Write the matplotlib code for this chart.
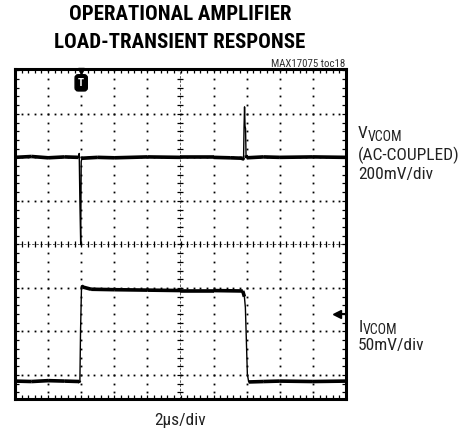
import matplotlib
matplotlib.use("Agg")
import matplotlib.pyplot as plt
from matplotlib import font_manager
import numpy as np

# scope screen in divisions (10 x 8, bottom part cropped)
x_divs = 10
y_top = 4.03
y_bottom = -3.54

# VVCOM trace (AC-coupled, 200mV/div), time and level in divisions
vcom_t = [-5.0, -4.5, -4.0, -3.5, -3.08, -3.06, -3.04, -3.015, -3.0, -2.98, -2.5, -2.0, -1.0,
          0.0, 1.0, 1.5, 1.88, 1.905, 1.92, 1.935, 1.95, 1.965, 1.98, 2.0, 2.5, 3.0, 4.0, 5.0]
vcom_v = [2.0, 2.02, 1.99, 2.01, 2.0, 2.09, 1.0, 0.0, 1.9, 1.98, 2.0, 1.99, 2.01,
          2.0, 2.0, 1.99, 1.98, 1.94, 2.7, 3.16, 2.72, 2.66, 2.05, 1.99, 2.01, 2.0, 2.01, 2.0]

# IVCOM trace (50mV/div)
ivcom_t = [-5.0, -4.5, -4.0, -3.5, -3.06, -3.04, -3.02, -2.99, -2.95, -2.7, -2.0, -1.0,
           0.0, 1.0, 1.88, 1.93, 1.96, 2.02, 2.06, 2.5, 3.0, 4.0, 5.0]
ivcom_v = [-3.14, -3.15, -3.13, -3.14, -3.15, -3.17, -2.0, -0.95, -0.98, -1.03, -1.04, -1.05,
           -1.06, -1.06, -1.07, -1.2, -1.45, -2.98, -3.16, -3.15, -3.14, -3.15, -3.14]

trigger_t = -3.0
ch2_ref = -1.59

installed = set(f.name for f in font_manager.fontManager.ttflist)


def pick(cands):
    for c in cands:
        if c in installed:
            return c
    return "DejaVu Sans"


narrow = pick(["Roboto Condensed", "Archivo Narrow", "PT Sans Narrow",
               "Liberation Sans Narrow", "Barlow Condensed", "Liberation Sans"])
heavy = pick(["Roboto Condensed", "Archivo Narrow", "Barlow Condensed",
              "Oswald", "Liberation Sans"])

fig = plt.figure(figsize=(4.73, 4.32), dpi=100)
W, H = 473, 432
ax = fig.add_axes([15 / W, 1 - 398.5 / H, 331 / W, 329.5 / H])
ax.set_xlim(-x_divs / 2, x_divs / 2)
ax.set_ylim(y_bottom, y_top)

# graticule dots
minor_x = np.arange(-5, 5.001, 0.2)
minor_y = np.arange(-3.4, 4.001, 0.2)
for gx in range(-4, 5):
    if gx == 0:
        continue
    ax.plot(np.full_like(minor_y, gx), minor_y, ls="none", marker="s", ms=1.3,
            mec="none", mfc="black", zorder=1)
for gy in range(-3, 4):
    if gy == 0:
        continue
    ax.plot(minor_x, np.full_like(minor_x, gy), ls="none", marker="s", ms=1.3,
            mec="none", mfc="black", zorder=1)

# center axes with cross ticks
ax.axhline(0, color="#444444", lw=0.6, dashes=(3, 2), zorder=1)
ax.axvline(0, color="#444444", lw=0.6, dashes=(3, 2), zorder=1)
ax.plot(minor_x, np.zeros_like(minor_x), ls="none", marker="|", ms=5, mew=0.9,
        color="black", zorder=1)
ax.plot(np.zeros_like(minor_y), minor_y, ls="none", marker="_", ms=5, mew=0.9,
        color="black", zorder=1)

# frame ticks
ax.set_xticks(minor_x)
ax.set_yticks(minor_y)
ax.tick_params(direction="in", length=3, width=0.9, top=True, right=True,
               labelbottom=False, labelleft=False)
for s in ax.spines.values():
    s.set_linewidth(2.2)


def draw_trace(t, v):
    t = np.asarray(t)
    v = np.asarray(v)
    ax.plot(t, v, color="black", lw=1.0, zorder=3)
    slope = np.abs(np.diff(v) / np.diff(t))
    for i in range(len(t) - 1):
        if slope[i] < 3:
            ax.plot(t[i:i + 2], v[i:i + 2], color="black", lw=2.6,
                    solid_capstyle="butt", zorder=3)


draw_trace(vcom_t, vcom_v)
draw_trace(ivcom_t, ivcom_v)

# trigger marker
ax.annotate("T", xy=(trigger_t, 0.958), xycoords=("data", "axes fraction"),
            ha="center", va="center", color="white", fontsize=8, fontweight="bold",
            family=heavy,
            bbox=dict(boxstyle="round,pad=0.28", fc="black", ec="black"), zorder=5)
ax.plot([trigger_t], [y_top - 0.05], marker="v", ms=4.5, color="black",
        clip_on=False, zorder=5)

# channel 2 reference arrow
ax.plot([4.74], [ch2_ref], marker="<", ms=5.5, color="black", zorder=5)
ax.plot([4.74, 4.93], [ch2_ref, ch2_ref], color="black", lw=1.5, zorder=5)


def ftext(x, y, s, **kw):
    kw.setdefault("family", narrow)
    fig.text(x / W, 1 - y / H, s, **kw)


ftext(180, 15, "OPERATIONAL AMPLIFIER", ha="center", va="center",
      fontsize=15, fontweight=900, family=heavy)
ftext(180, 42, "LOAD-TRANSIENT RESPONSE", ha="center", va="center",
      fontsize=15, fontweight=900, family=heavy)
ftext(345, 64, "MAX17075 toc18", ha="right", va="center", fontsize=7.8,
      color="#333333")

lab = dict(ha="left", va="baseline", color="#222222")
ftext(358, 138, "V", fontsize=12.5, **lab)
ftext(367.5, 141, "VCOM", fontsize=10, **lab)
ftext(358, 160, "(AC-COUPLED)", fontsize=12.5, **lab)
ftext(358, 179, "200mV/div", fontsize=12.5, **lab)
ftext(359, 331.5, "I", fontsize=12.5, **lab)
ftext(363, 334, "VCOM", fontsize=10, **lab)
ftext(358, 350, "50mV/div", fontsize=12.5, **lab)
ftext(180, 420, "2\u03bcs/div", ha="center", va="center", fontsize=12.5,
      color="#222222")

fig.savefig("out.png", dpi=100)
